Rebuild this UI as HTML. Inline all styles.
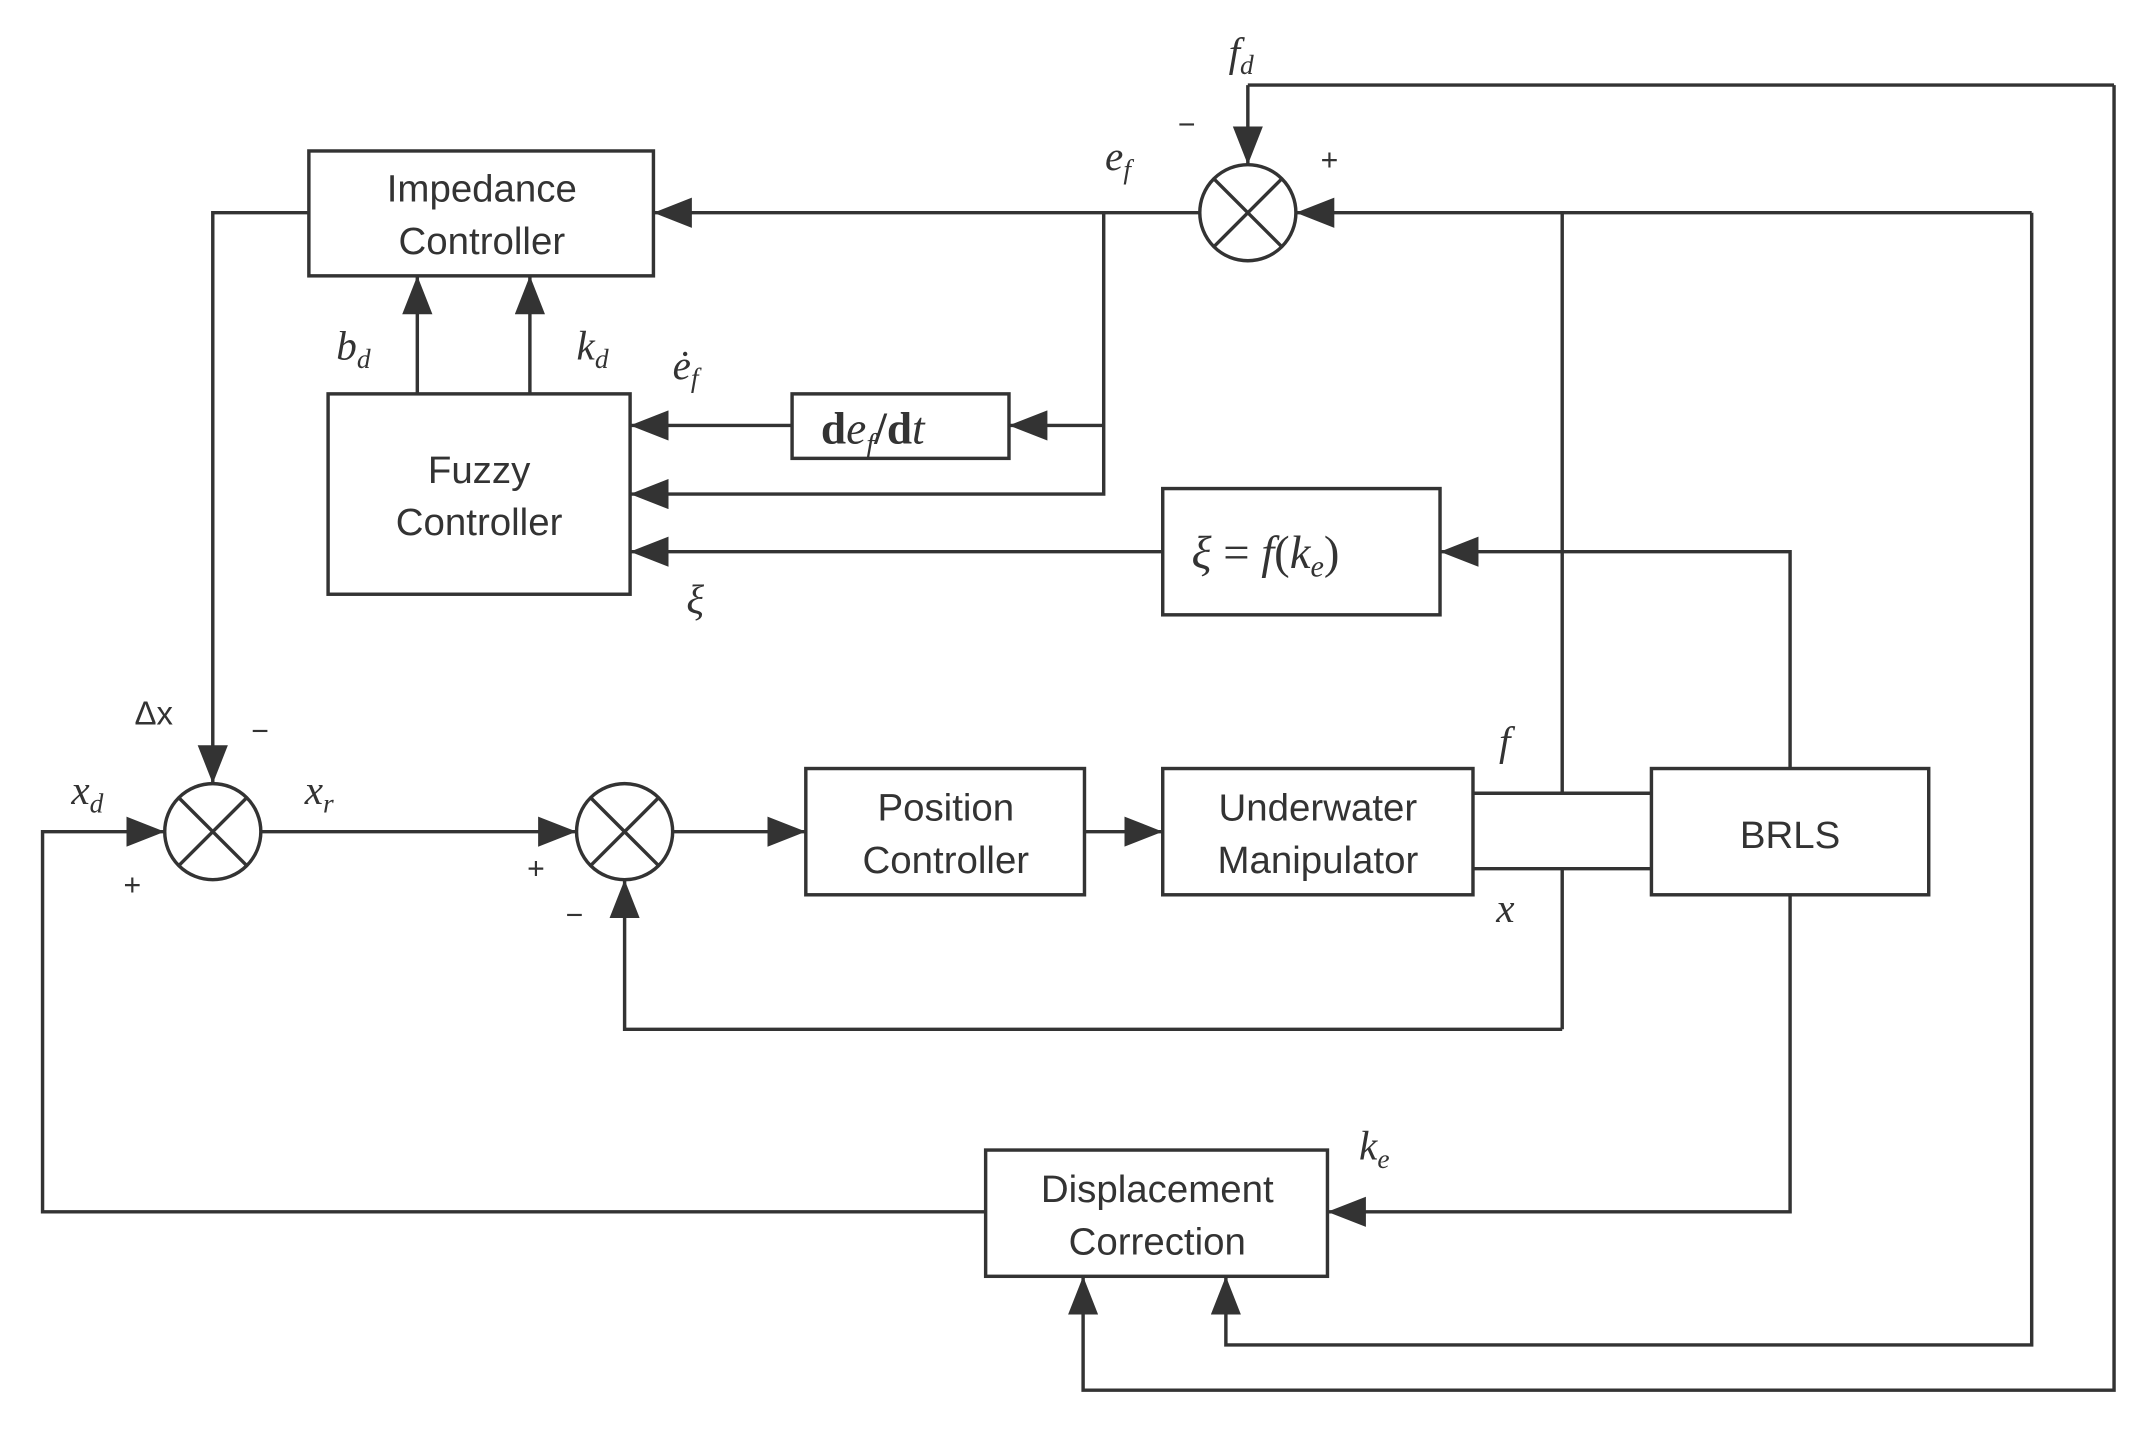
<!DOCTYPE html>
<html><head><meta charset="utf-8"><style>
html,body{margin:0;padding:0;background:#fff;}
svg{display:block;}
text{font-family:"Liberation Sans",sans-serif;fill:#333;}
.m{font-family:"Liberation Serif",serif;font-style:italic;}
</style></head><body>
<svg width="2147" height="1441" viewBox="0 0 1564 1050" preserveAspectRatio="none" xmlns="http://www.w3.org/2000/svg">
<defs>
<marker id="b" viewBox="0 0 10 10" refX="10" refY="5" markerWidth="28" markerHeight="22" markerUnits="userSpaceOnUse" orient="auto" preserveAspectRatio="none"><path d="M0,0 L10,5 L0,10 z" fill="#333"/></marker></defs>
<g fill="none" stroke="#333" stroke-width="2.5">
<rect x="225" y="110" width="251" height="91"/>
<rect x="239" y="287" width="220" height="146"/>
<rect x="577" y="287" width="158" height="47"/>
<rect x="847" y="356" width="202" height="92"/>
<rect x="587" y="560" width="203" height="92"/>
<rect x="847" y="560" width="226" height="92"/>
<rect x="1203" y="560" width="202" height="92"/>
<rect x="718" y="838" width="249" height="92"/>
<circle cx="909" cy="155" r="35"/><path d="M884,130 L934,180 M934,130 L884,180"/>
<circle cx="155" cy="606" r="35"/><path d="M130,581 L180,631 M180,581 L130,631"/>
<circle cx="455" cy="606" r="35"/><path d="M430,581 L480,631 M480,581 L430,631"/>
<g marker-end="url(#b)">
<path d="M909,62 L909,120"/>
<path d="M1540,62 L909,62 M1540,62 L1540,1013 L789,1013 L789,930"/>
<path d="M1480,155 L944,155"/>
<path d="M1480,155 L1480,980 L893,980 L893,930"/>
<path d="M874,155 L476,155"/>
<path d="M804,310 L735,310"/>
<path d="M804,155 L804,360 L459,360"/>
<path d="M577,310 L459,310"/>
<path d="M1304,560 L1304,402 L1049,402"/>
<path d="M847,402 L459,402"/>
<path d="M1304,652 L1304,883 L967,883"/>
<path d="M718,883 L31,883 L31,606 L120,606"/>
<path d="M225,155 L155,155 L155,571"/>
<path d="M304,287 L304,201"/>
<path d="M386,287 L386,201"/>
<path d="M190,606 L420,606"/>
<path d="M490,606 L587,606"/>
<path d="M790,606 L847,606"/>
<path d="M1138,750 L455,750 L455,641"/>
</g>
<path d="M1138,155 L1138,578 M1073,578 L1203,578 M1073,633 L1203,633 M1138,633 L1138,750"/>
</g>
<g font-size="28" text-anchor="middle">
<text x="351" y="147">Impedance</text><text x="351" y="185">Controller</text>
<text x="349" y="352">Fuzzy</text><text x="349" y="390">Controller</text>
<text x="689" y="598">Position</text><text x="689" y="636">Controller</text>
<text x="960" y="598">Underwater</text><text x="960" y="636">Manipulator</text>
<text x="1304" y="618">BRLS</text>
<text x="843" y="876">Displacement</text><text x="843" y="914">Correction</text>
</g>
<g font-size="30">
<text x="598" y="323" font-size="33" style="font-family:'Liberation Serif',serif;font-weight:bold">d<tspan class="m" font-weight="normal">e</tspan><tspan class="m" font-weight="normal" font-size="21" dy="7">f</tspan><tspan dy="-7">/d</tspan><tspan class="m" font-weight="normal">t</tspan></text>
<text x="868" y="414" font-size="34" class="m">ξ <tspan font-style="normal">=</tspan> f<tspan font-style="normal">(</tspan>k<tspan font-size="22" dy="6">e</tspan><tspan font-style="normal" dy="-6">)</tspan></text>
<text x="895" y="48" class="m">f<tspan font-size="20" dy="6">d</tspan></text>
<text x="805" y="124" class="m">e<tspan font-size="20" dy="6">f</tspan></text>
<text x="245" y="262" class="m">b<tspan font-size="20" dy="6">d</tspan></text>
<text x="420" y="262" class="m">k<tspan font-size="20" dy="6">d</tspan></text>
<text x="490" y="276" class="m">ė<tspan font-size="20" dy="6">f</tspan></text>
<text x="500" y="447" class="m">ξ</text>
<text x="52" y="586" class="m">x<tspan font-size="20" dy="6">d</tspan></text>
<text x="222" y="586" class="m">x<tspan font-size="20" dy="6">r</tspan></text>
<text x="1092" y="550" class="m">f</text>
<text x="1090" y="672" class="m">x</text>
<text x="990" y="845" class="m">k<tspan font-size="20" dy="6">e</tspan></text>
</g>
<g font-size="24">
<text x="98" y="528">Δx</text>
<text x="183" y="540" font-size="22">−</text>
<text x="858" y="98" font-size="22">−</text>
<text x="962" y="124" font-size="22">+</text>
<text x="90" y="652" font-size="22">+</text>
<text x="384" y="640" font-size="22">+</text>
<text x="412" y="674" font-size="22">−</text>
</g>
</svg>
</body></html>
